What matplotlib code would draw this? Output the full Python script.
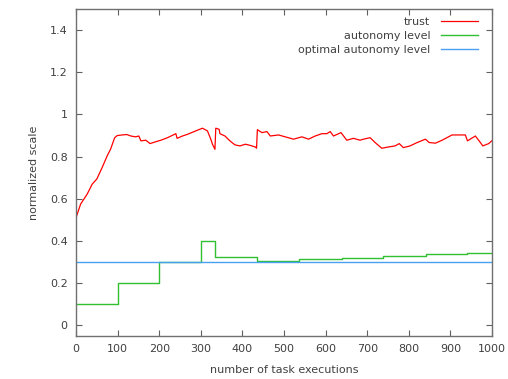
import numpy as np
import matplotlib
matplotlib.use("Agg")
import matplotlib.pyplot as plt
from matplotlib.ticker import FormatStrFormatter

# trust curve
trust_x = [0, 11, 27, 39, 50, 63, 75, 83, 93, 99, 111, 122, 132, 143, 151, 156, 168, 178,
           192, 204, 220, 240, 243, 256, 268, 284, 304, 316, 324, 328, 334, 336, 344, 346,
           358, 370, 382, 394, 407, 418, 431, 434, 436, 447, 459, 467, 487, 503, 523, 543,
           559, 575, 591, 603, 611, 619, 637, 651, 667, 683, 691, 707, 719, 735, 751, 767,
           777, 787, 803, 820, 840, 849, 864, 880, 904, 920, 936, 941, 960, 969, 978, 992, 1000]
trust_y = [0.51, 0.575, 0.623, 0.67, 0.694, 0.749, 0.804, 0.835, 0.89, 0.90, 0.903, 0.905,
           0.898, 0.894, 0.898, 0.875, 0.878, 0.862, 0.871, 0.878, 0.89, 0.909, 0.887, 0.898,
           0.906, 0.919, 0.935, 0.922, 0.883, 0.859, 0.835, 0.935, 0.93, 0.909, 0.898, 0.875,
           0.856, 0.851, 0.859, 0.854, 0.846, 0.84, 0.928, 0.914, 0.919, 0.898, 0.903, 0.894,
           0.883, 0.894, 0.883, 0.898, 0.909, 0.909, 0.919, 0.898, 0.914, 0.878, 0.887, 0.878,
           0.883, 0.89, 0.867, 0.840, 0.846, 0.851, 0.862, 0.843, 0.851, 0.867, 0.883, 0.867,
           0.864, 0.878, 0.903, 0.903, 0.903, 0.875, 0.898, 0.875, 0.851, 0.862, 0.876]

# autonomy level steps (value holds from each start until next)
auto_x = [0, 100, 200, 300, 334, 435, 535, 639, 739, 841, 941, 1000]
auto_y = [0.1, 0.2, 0.3, 0.4, 0.324, 0.307, 0.314, 0.318, 0.330, 0.338, 0.344, 0.344]

optimal_level = 0.3

fig = plt.figure(figsize=(5.08, 3.79), dpi=100)
ax = fig.add_axes([76 / 508, 43 / 379, 416 / 508, 327 / 379])

tc = "#404040"
ax.plot(trust_x, trust_y, color="#ff0000", lw=0.9, label="trust")
ax.step(auto_x, auto_y, where="post", color="#30c030", lw=1.0, label="autonomy level")
ax.plot([0, 1000], [optimal_level, optimal_level], color="#4a9ff0", lw=1.0,
        label="optimal autonomy level")

ax.set_xlim(0, 1000)
ax.set_ylim(-0.05, 1.5)
ax.set_xticks(np.arange(0, 1001, 100))
ax.set_yticks(np.arange(0, 1.41, 0.2))
ax.yaxis.set_major_formatter(FormatStrFormatter("%g"))
ax.tick_params(direction="in", length=4, width=0.8, colors="#606060", labelcolor=tc,
               labelsize=8, top=True, right=True, pad=6)
for s in ax.spines.values():
    s.set_color("#707070")
    s.set_linewidth(1.0)

ax.set_xlabel("number of task executions", fontsize=8, color=tc, labelpad=8)
ax.set_ylabel("normalized scale", fontsize=8, color=tc, labelpad=8)

leg = ax.legend(loc="upper right", markerfirst=False, frameon=False, fontsize=8,
                handlelength=3.3, handletextpad=1.0, labelspacing=0.35,
                borderaxespad=0.3, bbox_to_anchor=(0.985, 1.0))
for t in leg.get_texts():
    t.set_color(tc)

fig.savefig("out.png", dpi=100)
